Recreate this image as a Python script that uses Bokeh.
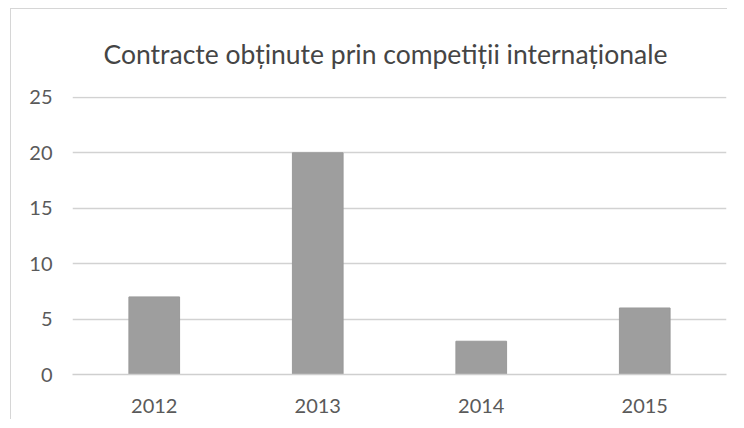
from bokeh.plotting import figure
from bokeh.models import Range1d, FixedTicker
from bokeh.embed import file_html
from bokeh.resources import INLINE

title_text = "Contracte obținute prin competiții internaționale"
years = ["2012", "2013", "2014", "2015"]
contracts = [7, 20, 3, 6]
y_ticks = [0, 5, 10, 15, 20, 25]

p = figure(x_range=years, y_range=Range1d(0, 25.08), width=717, height=411,
           output_backend="svg", toolbar_location=None,
           min_border_left=61, min_border_right=2, min_border_top=87, min_border_bottom=46)
p.styles = {"margin-left": "10px", "margin-top": "8px",
            "border-left": "1px solid #d6d6d6", "border-top": "1px solid #d6d6d6"}

p.vbar(x=years, top=contracts, width=0.31, fill_color="#9e9e9e", line_color="#9a9a9a")

p.title.text = title_text
p.title.text_font = "Lato"
p.title.text_font_size = "26.5px"
p.title.text_font_style = "normal"
p.title.text_color = "#454545"
p.title.align = "left"
p.title.vertical_align = "top"
p.title.offset = 31
p.title.standoff = 49
p.title_location = "above"

p.background_fill_color = "#ffffff"
p.border_fill_color = "#ffffff"
p.outline_line_color = None

p.xgrid.grid_line_color = None
p.ygrid.grid_line_color = "#d2d2d2"
p.ygrid.grid_line_width = 1.5
p.yaxis.ticker = FixedTicker(ticks=y_ticks)

for ax in (p.xaxis, p.yaxis):
    ax.major_tick_line_color = None
    ax.minor_tick_line_color = None
    ax.major_label_text_font = "Lato"
    ax.major_label_text_font_size = "20px"
    ax.major_label_text_color = "#5a5a5a"
p.yaxis.axis_line_color = None
p.yaxis.major_label_standoff = 14
p.xaxis.axis_line_color = "#cfcfcf"
p.xaxis.axis_line_width = 1.5
p.xaxis.major_label_standoff = 18

open("out.html", "w").write(file_html(p, INLINE))
